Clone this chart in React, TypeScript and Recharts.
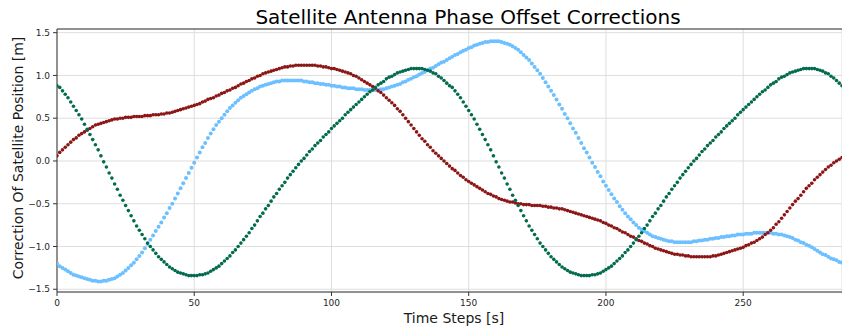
import { ScatterChart, Scatter, XAxis, YAxis, CartesianGrid, ReferenceLine } from "recharts";

// correction per time step (index = time step in s)
const redCorrection = [
  0.06, 0.10, 0.13, 0.16, 0.19, 0.22, 0.25, 0.27, 0.30, 0.32,
  0.34, 0.36, 0.38, 0.40, 0.42, 0.43, 0.44, 0.45, 0.46, 0.47,
  0.48, 0.49, 0.49, 0.50, 0.50, 0.51, 0.51, 0.51, 0.52, 0.52,
  0.52, 0.52, 0.53, 0.53, 0.53, 0.54, 0.54, 0.54, 0.55, 0.55,
  0.56, 0.56, 0.57, 0.58, 0.59, 0.60, 0.61, 0.62, 0.63, 0.64,
  0.65, 0.66, 0.67, 0.69, 0.70, 0.72, 0.73, 0.74, 0.76, 0.77,
  0.79, 0.80, 0.82, 0.83, 0.85, 0.86, 0.88, 0.90, 0.91, 0.93,
  0.94, 0.96, 0.97, 0.99, 1.00, 1.02, 1.03, 1.04, 1.05, 1.06,
  1.07, 1.08, 1.09, 1.10, 1.10, 1.11, 1.11, 1.12, 1.12, 1.12,
  1.12, 1.12, 1.12, 1.12, 1.12, 1.11, 1.11, 1.10, 1.10, 1.09,
  1.08, 1.08, 1.07, 1.06, 1.05, 1.04, 1.03, 1.02, 1.00, 0.99,
  0.97, 0.95, 0.93, 0.91, 0.89, 0.87, 0.85, 0.82, 0.80, 0.77,
  0.74, 0.71, 0.68, 0.65, 0.61, 0.58, 0.54, 0.50, 0.46, 0.42,
  0.38, 0.34, 0.30, 0.26, 0.23, 0.19, 0.16, 0.12, 0.09, 0.06,
  0.03, 0.00, -0.03, -0.06, -0.09, -0.11, -0.14, -0.17, -0.19, -0.22,
  -0.24, -0.26, -0.28, -0.30, -0.32, -0.34, -0.36, -0.38, -0.39, -0.41,
  -0.42, -0.44, -0.45, -0.46, -0.47, -0.48, -0.48, -0.49, -0.50, -0.50,
  -0.51, -0.51, -0.51, -0.52, -0.52, -0.52, -0.52, -0.53, -0.53, -0.54,
  -0.54, -0.55, -0.55, -0.56, -0.56, -0.57, -0.58, -0.59, -0.60, -0.61,
  -0.62, -0.63, -0.64, -0.65, -0.66, -0.67, -0.68, -0.69, -0.70, -0.72,
  -0.73, -0.75, -0.76, -0.78, -0.79, -0.81, -0.83, -0.84, -0.86, -0.88,
  -0.89, -0.91, -0.93, -0.94, -0.96, -0.97, -0.99, -1.00, -1.02, -1.03,
  -1.04, -1.05, -1.06, -1.07, -1.08, -1.09, -1.09, -1.10, -1.10, -1.11,
  -1.11, -1.12, -1.12, -1.12, -1.12, -1.12, -1.12, -1.12, -1.12, -1.11,
  -1.11, -1.10, -1.09, -1.08, -1.07, -1.06, -1.05, -1.04, -1.03, -1.02,
  -1.01, -0.99, -0.98, -0.96, -0.95, -0.93, -0.91, -0.89, -0.86, -0.84,
  -0.81, -0.78, -0.74, -0.71, -0.67, -0.63, -0.59, -0.55, -0.51, -0.47,
  -0.44, -0.40, -0.36, -0.32, -0.29, -0.26, -0.22, -0.19, -0.16, -0.13,
  -0.10, -0.07, -0.05, -0.02, 0.00, 0.02, 0.04,
];

const greenCorrection = [
  0.88, 0.86, 0.82, 0.78, 0.74, 0.69, 0.64, 0.59, 0.54, 0.49,
  0.43, 0.37, 0.31, 0.25, 0.19, 0.13, 0.06, -0.01, -0.07, -0.14,
  -0.20, -0.27, -0.33, -0.40, -0.46, -0.52, -0.58, -0.64, -0.70, -0.76,
  -0.81, -0.86, -0.91, -0.96, -1.00, -1.04, -1.08, -1.12, -1.15, -1.18,
  -1.21, -1.24, -1.26, -1.28, -1.30, -1.31, -1.32, -1.33, -1.34, -1.34,
  -1.34, -1.34, -1.33, -1.33, -1.32, -1.31, -1.29, -1.27, -1.25, -1.23,
  -1.20, -1.17, -1.14, -1.11, -1.07, -1.04, -1.00, -0.96, -0.92, -0.88,
  -0.84, -0.79, -0.75, -0.70, -0.65, -0.61, -0.56, -0.52, -0.47, -0.42,
  -0.38, -0.33, -0.29, -0.25, -0.20, -0.16, -0.12, -0.08, -0.04, 0.00,
  0.03, 0.07, 0.11, 0.14, 0.18, 0.21, 0.24, 0.28, 0.31, 0.34,
  0.38, 0.41, 0.44, 0.47, 0.50, 0.54, 0.57, 0.60, 0.63, 0.66,
  0.69, 0.72, 0.75, 0.78, 0.81, 0.83, 0.86, 0.89, 0.91, 0.93,
  0.96, 0.98, 0.99, 1.01, 1.03, 1.04, 1.05, 1.06, 1.07, 1.08,
  1.08, 1.08, 1.08, 1.08, 1.07, 1.06, 1.05, 1.03, 1.02, 0.99,
  0.97, 0.94, 0.91, 0.88, 0.86, 0.82, 0.78, 0.74, 0.69, 0.64,
  0.59, 0.54, 0.49, 0.43, 0.37, 0.31, 0.25, 0.19, 0.13, 0.06,
  -0.01, -0.07, -0.14, -0.20, -0.27, -0.33, -0.40, -0.46, -0.52, -0.58,
  -0.64, -0.70, -0.76, -0.81, -0.86, -0.91, -0.96, -1.00, -1.04, -1.08,
  -1.12, -1.15, -1.18, -1.21, -1.24, -1.26, -1.28, -1.30, -1.31, -1.32,
  -1.33, -1.34, -1.34, -1.34, -1.34, -1.33, -1.33, -1.32, -1.31, -1.29,
  -1.27, -1.25, -1.23, -1.20, -1.17, -1.14, -1.11, -1.07, -1.04, -1.00,
  -0.96, -0.92, -0.88, -0.84, -0.79, -0.75, -0.70, -0.65, -0.61, -0.56,
  -0.52, -0.47, -0.42, -0.38, -0.33, -0.29, -0.25, -0.20, -0.16, -0.12,
  -0.08, -0.04, 0.00, 0.03, 0.07, 0.11, 0.14, 0.18, 0.21, 0.24,
  0.28, 0.31, 0.34, 0.38, 0.41, 0.44, 0.47, 0.50, 0.54, 0.57,
  0.60, 0.63, 0.66, 0.69, 0.72, 0.75, 0.78, 0.81, 0.83, 0.86,
  0.89, 0.91, 0.93, 0.96, 0.98, 0.99, 1.01, 1.03, 1.04, 1.05,
  1.06, 1.07, 1.08, 1.08, 1.08, 1.08, 1.08, 1.07, 1.06, 1.05,
  1.03, 1.02, 0.99, 0.97, 0.94, 0.91, 0.88,
];

const blueCorrection = [
  -1.20, -1.23, -1.25, -1.27, -1.29, -1.31, -1.33, -1.34, -1.35, -1.36,
  -1.37, -1.38, -1.39, -1.40, -1.40, -1.41, -1.41, -1.40, -1.40, -1.39,
  -1.38, -1.37, -1.35, -1.33, -1.31, -1.28, -1.25, -1.22, -1.19, -1.15,
  -1.11, -1.07, -1.02, -0.97, -0.92, -0.87, -0.82, -0.77, -0.72, -0.66,
  -0.61, -0.55, -0.50, -0.44, -0.38, -0.32, -0.26, -0.20, -0.14, -0.08,
  -0.02, 0.04, 0.10, 0.16, 0.21, 0.27, 0.32, 0.37, 0.42, 0.46,
  0.50, 0.54, 0.58, 0.62, 0.65, 0.68, 0.71, 0.74, 0.76, 0.78,
  0.80, 0.82, 0.84, 0.85, 0.87, 0.88, 0.89, 0.90, 0.91, 0.92,
  0.93, 0.93, 0.94, 0.94, 0.94, 0.94, 0.94, 0.94, 0.94, 0.94,
  0.93, 0.93, 0.92, 0.92, 0.91, 0.91, 0.90, 0.90, 0.89, 0.89,
  0.88, 0.88, 0.87, 0.87, 0.86, 0.86, 0.85, 0.85, 0.85, 0.84,
  0.84, 0.84, 0.83, 0.83, 0.83, 0.83, 0.83, 0.83, 0.84, 0.84,
  0.85, 0.86, 0.87, 0.88, 0.89, 0.90, 0.92, 0.93, 0.95, 0.96,
  0.98, 0.99, 1.01, 1.03, 1.04, 1.06, 1.08, 1.09, 1.11, 1.13,
  1.15, 1.16, 1.18, 1.20, 1.22, 1.24, 1.25, 1.27, 1.29, 1.30,
  1.32, 1.33, 1.35, 1.36, 1.37, 1.38, 1.39, 1.39, 1.40, 1.40,
  1.40, 1.40, 1.39, 1.38, 1.37, 1.36, 1.34, 1.32, 1.30, 1.27,
  1.24, 1.21, 1.18, 1.14, 1.10, 1.06, 1.02, 0.97, 0.92, 0.87,
  0.82, 0.77, 0.72, 0.66, 0.61, 0.55, 0.50, 0.44, 0.38, 0.33,
  0.27, 0.21, 0.15, 0.10, 0.04, -0.02, -0.07, -0.13, -0.18, -0.24,
  -0.29, -0.34, -0.39, -0.44, -0.48, -0.53, -0.57, -0.61, -0.65, -0.68,
  -0.72, -0.75, -0.78, -0.80, -0.82, -0.84, -0.86, -0.88, -0.89, -0.90,
  -0.91, -0.92, -0.93, -0.94, -0.94, -0.95, -0.95, -0.95, -0.95, -0.95,
  -0.95, -0.95, -0.94, -0.94, -0.93, -0.93, -0.92, -0.92, -0.91, -0.91,
  -0.90, -0.90, -0.89, -0.89, -0.88, -0.88, -0.87, -0.87, -0.86, -0.86,
  -0.86, -0.85, -0.85, -0.85, -0.84, -0.84, -0.84, -0.84, -0.84, -0.84,
  -0.84, -0.85, -0.85, -0.86, -0.86, -0.87, -0.88, -0.89, -0.90, -0.92,
  -0.93, -0.95, -0.96, -0.98, -0.99, -1.01, -1.03, -1.05, -1.07, -1.09,
  -1.10, -1.12, -1.14, -1.15, -1.16, -1.18, -1.19,
];

const xTicks = [0, 50, 100, 150, 200, 250];
const yTicks = [-1.5, -1.0, -0.5, 0.0, 0.5, 1.0, 1.5];

const X_MAX = 286;
const Y_MIN = -1.532;
const Y_MAX = 1.543;
const FONT = "DejaVu Sans, sans-serif";

const toPoints = (vals: number[]) => vals.map((y, x) => ({ x, y }));

const dot = (color: string, r: number) => (p: any) =>
  <circle cx={p.cx} cy={p.cy} r={r} fill={color} />;

const fmtY = (v: number) => v.toFixed(1).replace("-", "\u2212");

export default function App() {
  const tick = { fontSize: 9, fill: "#262626", fontFamily: FONT };
  return (
    <div style={{ position: "relative", width: 842, height: 328, background: "#fff" }}>
      <style>{"body{margin:0}"}</style>
      <ScatterChart width={842} height={328} margin={{ top: 29, right: 0, bottom: 0, left: 0 }}>
        <CartesianGrid stroke="#dedede" strokeWidth={1} />
        <XAxis
          type="number"
          dataKey="x"
          domain={[0, X_MAX]}
          ticks={xTicks}
          allowDataOverflow
          height={36}
          tick={tick}
          tickSize={4}
          tickMargin={4}
          stroke="#333"
        />
        <YAxis
          type="number"
          dataKey="y"
          domain={[Y_MIN, Y_MAX]}
          ticks={yTicks}
          allowDataOverflow
          width={57}
          tick={tick}
          tickSize={4}
          tickMargin={3}
          tickFormatter={fmtY}
          stroke="#333"
        />
        <ReferenceLine y={Y_MAX} stroke="#333" strokeWidth={1} />
        <Scatter data={toPoints(blueCorrection)} shape={dot("#6cc0ff", 2)} isAnimationActive={false} />
        <Scatter data={toPoints(redCorrection)} shape={dot("#8c1616", 1.8)} isAnimationActive={false} />
        <Scatter data={toPoints(greenCorrection)} shape={dot("#006b4d", 1.8)} isAnimationActive={false} />
      </ScatterChart>
      <svg width={842} height={328} style={{ position: "absolute", left: 0, top: 0, pointerEvents: "none" }}>
        <text x={468} y={24} textAnchor="middle" fontSize={20} fontFamily={FONT} fill="#000">
          Satellite Antenna Phase Offset Corrections
        </text>
        <text x={454} y={323} textAnchor="middle" fontSize={14} fontFamily={FONT} fill="#1a1a1a">
          Time Steps [s]
        </text>
        <text
          x={18}
          y={158}
          textAnchor="middle"
          dominantBaseline="central"
          fontSize={14}
          fontFamily={FONT}
          fill="#1a1a1a"
          transform="rotate(-90 18 158)"
        >
          Correction Of Satellite Position [m]
        </text>
      </svg>
    </div>
  );
}
